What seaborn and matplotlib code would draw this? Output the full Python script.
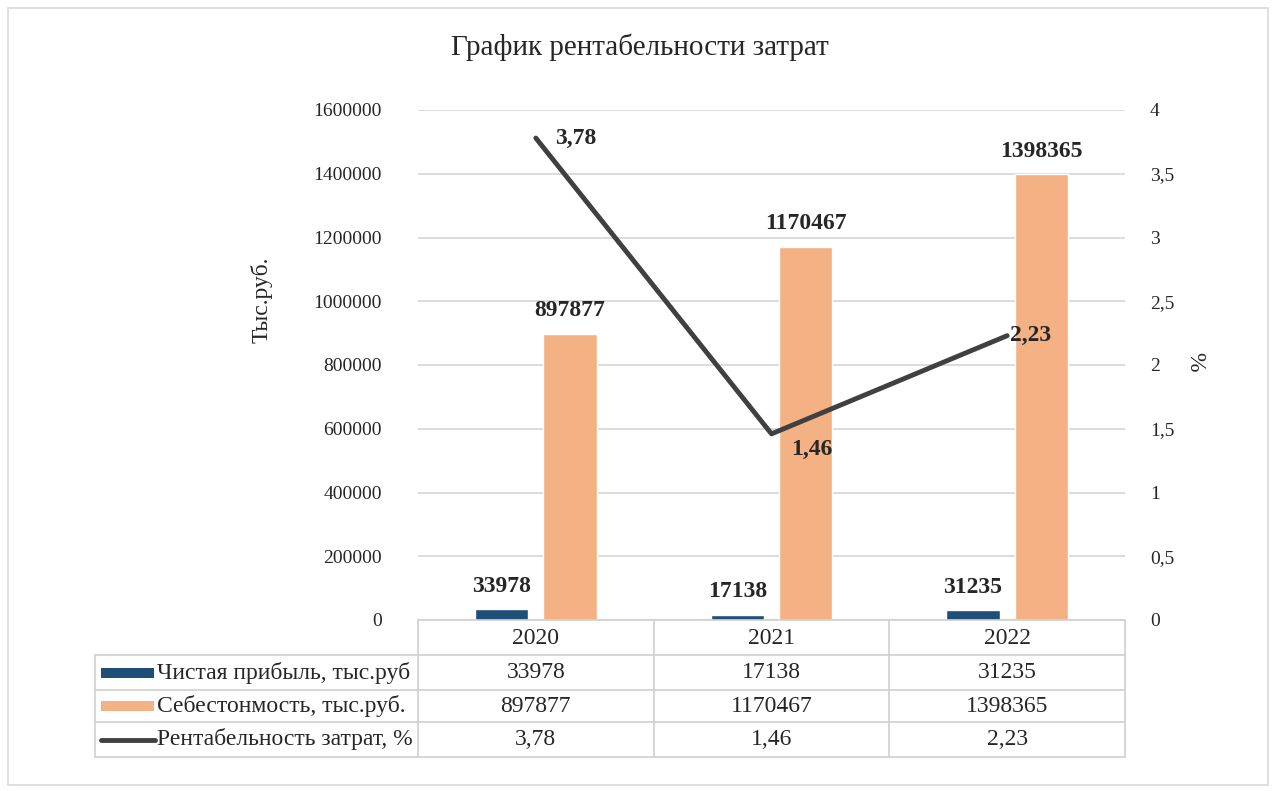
import matplotlib
matplotlib.use('Agg')

import numpy as np
import pandas as pd
import matplotlib.pyplot as plt
import matplotlib.transforms as mtransforms
from matplotlib.patches import Rectangle
from matplotlib.lines import Line2D
import seaborn as sns

# DATA
years = ["2020", "2021", "2022"]
profit = [33978, 17138, 31235]
cost = [897877, 1170467, 1398365]
rent = [3.78, 1.46, 2.23]
series_names = ["Чистая прибыль, тыс.руб", "Себестонмость, тыс.руб.", "Рентабельность затрат, %"]
left_ticks = [0, 200000, 400000, 600000, 800000, 1000000, 1200000, 1400000, 1600000]
right_ticks = [0, 0.5, 1, 1.5, 2, 2.5, 3, 3.5, 4]

BLUE = "#1F4E79"
ORANGE = "#F4B183"
DARK = "#404040"
GRID = "#D9D9D9"

sns.set_style("white")
plt.rcParams["font.family"] = ["Liberation Serif", "DejaVu Serif"]

W, H = 1274, 791
fig = plt.figure(figsize=(W / 100, H / 100), dpi=100)


def fx(x):
    return x / W


def fy(y):
    return 1 - y / H


ax = fig.add_axes([fx(418), fy(620), fx(1125) - fx(418), fy(110) - fy(620)])

df = pd.DataFrame({
    "year": years * 2,
    "value": profit + cost,
    "series": [series_names[0]] * 3 + [series_names[1]] * 3,
})
sns.barplot(data=df, x="year", y="value", hue="series", order=years,
            palette=[BLUE, ORANGE], width=0.58, gap=0.22, ax=ax,
            legend=False, saturation=1)

ax.set_ylim(0, 1600000)
ax.set_xlim(-0.5, 2.5)
ax.set_yticks(left_ticks)
ax.set_yticklabels([str(t) for t in left_ticks])
ax.tick_params(axis="y", length=0, pad=26, labelsize=14)
ax.set_xticks([])
ax.set_xlabel("")
ax.set_ylabel("")
ax.grid(axis="y", color=GRID, linewidth=1.3)
ax.set_axisbelow(True)
for s in ax.spines.values():
    s.set_visible(False)

for cont in ax.containers:
    ax.bar_label(cont, labels=[str(int(v)) for v in cont.datavalues],
                 padding=9, fontsize=17, fontweight="bold")

ax2 = ax.twinx()
sns.lineplot(x=np.arange(len(years)), y=rent, ax=ax2, color=DARK, linewidth=3.5)
ax2.set_ylim(0, 4)
ax2.set_yticks(right_ticks)
ax2.set_yticklabels([f"{t:g}".replace(".", ",") for t in right_ticks])
ax2.tick_params(axis="y", length=0, pad=18, labelsize=14)
for s in ax2.spines.values():
    s.set_visible(False)

offsets = [(14, 0), (14, -11), (2, 0)]
for i, v in enumerate(rent):
    ax2.annotate(f"{v:.2f}".replace(".", ","), (i, v), xytext=offsets[i],
                 textcoords="offset points", ha="left", va="center",
                 fontsize=17, fontweight="bold")

# titles
fig.text(fx(640), fy(47), "График рентабельности затрат", ha="center",
         va="center", fontsize=21)
fig.text(fx(262), fy(300), "Тыс.руб.", ha="center", va="center",
         rotation=90, fontsize=17)
fig.text(fx(1195), fy(362), "%", ha="center", va="center",
         rotation=270, fontsize=17)

# data table under the axis
tr = mtransforms.blended_transform_factory(ax.transData, fig.transFigure)
row_y = [620, 655, 690, 722, 757]
tcol = "#CFCFCF"
fig.add_artist(Line2D([-0.5, 2.5], [fy(620)] * 2, transform=tr, color=tcol, lw=1.2))
for y in row_y[1:]:
    fig.add_artist(Line2D([fx(95), fx(1125)], [fy(y)] * 2, color=tcol, lw=1.2))
for xe in [-0.5, 0.5, 1.5, 2.5]:
    fig.add_artist(Line2D([xe, xe], [fy(620), fy(757)], transform=tr, color=tcol, lw=1.2))
fig.add_artist(Line2D([fx(95)] * 2, [fy(655), fy(757)], color=tcol, lw=1.2))

for i, yr in enumerate(years):
    fig.text(i, fy(638), yr, transform=tr, ha="center", va="center", fontsize=17)

rows = [
    [str(v) for v in profit],
    [str(v) for v in cost],
    [f"{v:.2f}".replace(".", ",") for v in rent],
]
for r, vals in enumerate(rows):
    yc = (row_y[r + 1] + row_y[r + 2]) / 2
    for i, t in enumerate(vals):
        fig.text(i, fy(yc), t, transform=tr, ha="center", va="center", fontsize=17)
    fig.text(fx(157), fy(yc), series_names[r], ha="left", va="center", fontsize=17)
    if r < 2:
        fig.add_artist(Rectangle((fx(101), fy(yc + 5)), fx(154) - fx(101),
                                 fy(yc - 5) - fy(yc + 5),
                                 color=[BLUE, ORANGE][r], lw=0))
    else:
        fig.add_artist(Line2D([fx(101), fx(155)], [fy(yc)] * 2, color=DARK, lw=3.5))

# chart area border
fig.add_artist(Rectangle((fx(8), fy(785)), fx(1268) - fx(8), fy(8) - fy(785),
                         fill=False, edgecolor="#D9D9D9", lw=1.2))

fig.savefig("out.png", dpi=100)
